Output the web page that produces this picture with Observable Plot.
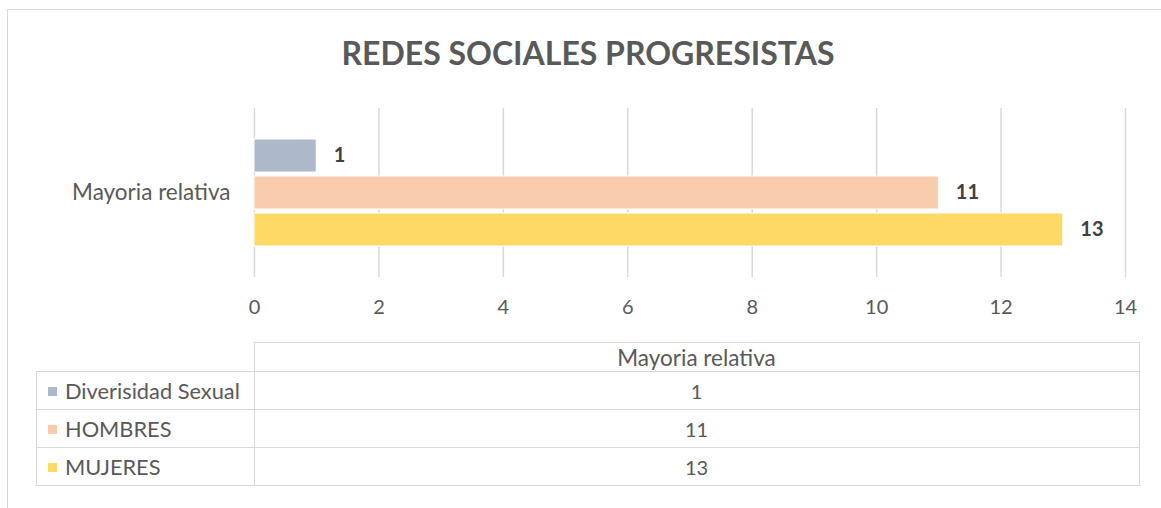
<!DOCTYPE html>
<html><head><meta charset="utf-8">
<script src="https://cdn.jsdelivr.net/npm/d3@7"></script>
<script src="https://cdn.jsdelivr.net/npm/@observablehq/plot@0.6"></script>
<style>
body{margin:0;background:#fff;font-family:Lato,"Open Sans",sans-serif;color:#595959}
#wrap{position:relative;width:1161px;height:508px;overflow:hidden;background:#fff}
#border{position:absolute;left:7px;top:9px;width:1300px;height:700px;border:1.5px solid #d9d9d9;box-sizing:border-box}
#title{position:absolute;left:0;width:1176px;top:33px;text-align:center;font-weight:bold;font-size:32px;color:#595959;letter-spacing:0px}
#chart{position:absolute;left:0;top:0}
#tbl{position:absolute;left:36px;top:342px;border-collapse:collapse;font-size:22.5px;color:#595959}
#tbl td{border:1.5px solid #d9d9d9;padding:0;text-align:center;height:37px}
#tbl td.num{font-size:20px}
#tbl tr.h td{height:28px}
#tbl td.blank{border-top:none;border-left:none}
#tbl td.name{text-align:left;padding-left:11px;white-space:nowrap;font-size:21.8px}
.key{display:inline-block;width:9px;height:9px;margin-right:8px;vertical-align:middle;position:relative;top:-2px}
</style></head>
<body><div id="wrap"><div id="border"></div><div id="title"></div><div id="chart"></div><table id="tbl"></table></div>
<script>
const title = "REDES SOCIALES PROGRESISTAS";
const category = "Mayoria relativa";
const series = ["Diverisidad Sexual", "HOMBRES", "MUJERES"];
const values = [1, 11, 13];
const colors = ["#ADB9CA", "#F8CBAD", "#FFD966"];
const xTicks = [0, 2, 4, 6, 8, 10, 12, 14];

const data = series.map((s, i) => ({category, series: s, value: values[i]}));

document.getElementById("title").textContent = title;

const plot = Plot.plot({
  width: 1161,
  height: 340,
  marginTop: 108,
  marginBottom: 63,
  marginLeft: 254,
  marginRight: 36,
  style: {fontFamily: "Lato, 'Open Sans', sans-serif", fontSize: "20px", color: "#595959", background: "transparent"},
  x: {domain: [0, 14], ticks: xTicks, axis: null},
  y: {domain: series, axis: null, paddingInner: 0.12, paddingOuter: 0.813},
  fy: {domain: [category], padding: 0, axis: null},
  color: {domain: series, range: colors},
  marks: [
    Plot.ruleX(xTicks, {x: d => d, stroke: "#d9d9d9", strokeWidth: 1.5}),
    Plot.barX(data, {x: "value", y: "series", fy: "category", fill: "series", stroke: "white", strokeWidth: 1}),
    Plot.text(data, {x: "value", y: "series", fy: "category", text: d => String(d.value), textAnchor: "start", dx: 17, fontWeight: "bold", fill: "#404040"}),
    Plot.axisX({ticks: xTicks, tickSize: 0, tickPadding: 22, tickFormat: d => String(d), label: null, fill: "#595959"}),
    Plot.axisFy({anchor: "left", tickSize: 0, tickPadding: 24, label: null, fill: "#595959", fontSize: "22.5px"})
  ]
});
document.getElementById("chart").appendChild(plot);

// data table
const tbl = document.getElementById("tbl");
const cols = [217, 884];
let html = `<tr class="h"><td class="blank" style="width:${cols[0]}px"></td><td style="width:${cols[1]}px">${category}</td></tr>`;
series.forEach((s, i) => {
  html += `<tr><td class="name"><span class="key" style="background:${colors[i]}"></span>${s}</td><td class="num">${values[i]}</td></tr>`;
});
tbl.innerHTML = html;
</script></body></html>
